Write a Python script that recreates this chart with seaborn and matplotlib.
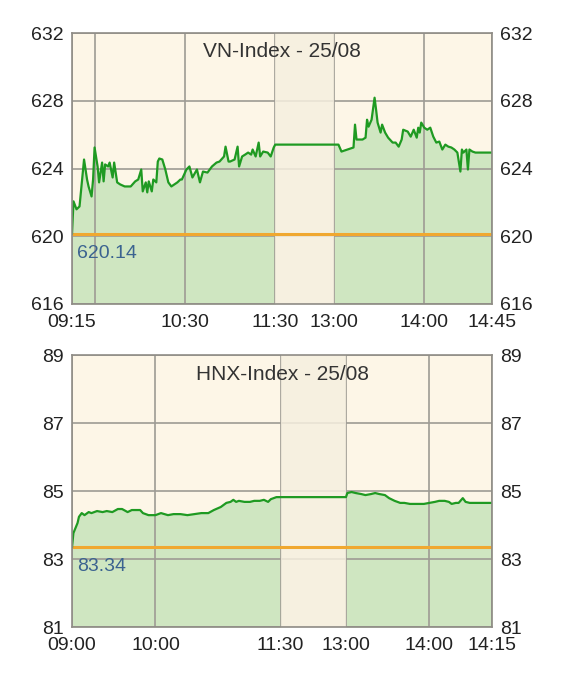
import numpy as np
import pandas as pd
import matplotlib
matplotlib.use('Agg')
import matplotlib.pyplot as plt
import seaborn as sns


# VN-Index intraday, 25/08
VN_TIMES = [
    '09:15', '09:16', '09:18', '09:20', '09:23', '09:25', '09:26', '09:28', '09:29', '09:30',
    '09:32', '09:33', '09:35', '09:36', '09:37', '09:39', '09:40', '09:42', '09:43', '09:45',
    '09:47', '09:50', '09:54', '09:57', '09:59', '10:01', '10:02', '10:04', '10:05', '10:06',
    '10:08', '10:09', '10:11', '10:12', '10:13', '10:15', '10:17', '10:19', '10:21', '10:25',
    '10:27', '10:28', '10:31', '10:33', '10:35', '10:38', '10:40', '10:42', '10:45', '10:48',
    '10:51', '10:53', '10:56', '10:57', '10:59', '11:00', '11:03', '11:05', '11:06', '11:08',
    '11:10', '11:12', '11:14', '11:15', '11:17', '11:19', '11:20', '11:22', '11:25', '11:27',
    '11:29', '11:30', '13:00', '13:03', '13:05', '13:09', '13:13', '13:14', '13:15', '13:19',
    '13:21', '13:22', '13:23', '13:25', '13:27', '13:28', '13:29', '13:31', '13:32', '13:34',
    '13:36', '13:39', '13:41', '13:43', '13:45', '13:46', '13:49', '13:51', '13:53', '13:55',
    '13:56', '13:57', '13:58', '14:00', '14:02', '14:04', '14:06', '14:08', '14:10', '14:12',
    '14:14', '14:16', '14:18', '14:20', '14:22', '14:24', '14:25', '14:26', '14:28', '14:29',
    '14:30', '14:32', '14:34', '14:45',
]
VN_VALUES = [
    620.14, 622.06, 621.59, 621.76, 624.53, 623.35, 622.94, 622.35, 623.35, 625.24,
    624.12, 623.18, 624.35, 623.24, 624.24, 624.12, 624.35, 623.47, 624.35, 623.18,
    623.06, 622.94, 622.94, 623.24, 623.35, 623.94, 622.65, 623.18, 622.59, 623.24,
    622.65, 623.35, 623.18, 624.41, 624.59, 624.53, 623.94, 623.18, 622.94, 623.18,
    623.35, 623.35, 623.94, 624.12, 623.47, 623.94, 623.18, 623.82, 623.76, 624.12,
    624.35, 624.41, 624.71, 625.29, 624.41, 624.41, 624.53, 625.29, 624.12, 624.71,
    624.82, 624.94, 624.82, 625.12, 624.71, 625.53, 624.71, 625.00, 624.94, 624.71,
    625.24, 625.41, 625.41, 625.41, 625.00, 625.12, 625.24, 626.59, 625.71, 625.71,
    625.82, 626.88, 626.47, 626.88, 628.18, 627.47, 626.71, 626.12, 626.59, 626.12,
    625.82, 625.53, 625.53, 625.29, 625.71, 626.29, 626.18, 625.88, 626.29, 625.82,
    626.41, 626.12, 626.71, 626.41, 626.29, 626.41, 625.88, 625.53, 625.59, 625.12,
    625.41, 625.29, 625.24, 625.12, 624.94, 623.82, 625.12, 624.94, 625.12, 623.94,
    625.12, 625.00, 624.94, 624.94,
]
VN_REF = 620.14
VN_TICKS = ['09:15', '10:30', '11:30', '13:00', '14:00', '14:45']
VN_TICK_LABELS = ['09:15', '10:30', '11:30', '13:00', '14:00', '14:45']
VN_EXTRA_GRID = ['09:30']
VN_YTICKS = [616, 620, 624, 628, 632]

# HNX-Index intraday, 25/08
HNX_TIMES = [
    '09:00', '09:01', '09:04', '09:05', '09:07', '09:09', '09:12', '09:14', '09:18', '09:22',
    '09:25', '09:29', '09:33', '09:36', '09:40', '09:43', '09:47', '09:49', '09:51', '09:55',
    '10:00', '10:04', '10:09', '10:13', '10:18', '10:23', '10:28', '10:33', '10:38', '10:42',
    '10:47', '10:51', '10:54', '10:56', '10:58', '11:00', '11:04', '11:08', '11:11', '11:15',
    '11:18', '11:21', '11:23', '11:27', '11:30', '13:00', '13:01', '13:04', '13:07', '13:11',
    '13:14', '13:18', '13:21', '13:24', '13:28', '13:31', '13:35', '13:39', '13:42', '13:46',
    '13:51', '13:56', '14:00', '14:04', '14:07', '14:11', '14:14', '14:16', '14:19', '14:21',
    '14:24', '14:26', '14:29', '14:45',
]
HNX_VALUES = [
    83.34, 83.76, 84.06, 84.24, 84.35, 84.29, 84.38, 84.35, 84.41, 84.38,
    84.41, 84.38, 84.47, 84.47, 84.38, 84.44, 84.44, 84.44, 84.35, 84.29,
    84.29, 84.35, 84.29, 84.32, 84.32, 84.29, 84.32, 84.35, 84.35, 84.44,
    84.53, 84.65, 84.68, 84.74, 84.68, 84.71, 84.68, 84.68, 84.71, 84.71,
    84.74, 84.68, 84.76, 84.82, 84.82, 84.82, 84.94, 84.97, 84.94, 84.91,
    84.88, 84.91, 84.94, 84.91, 84.88, 84.79, 84.71, 84.65, 84.65, 84.62,
    84.62, 84.62, 84.65, 84.68, 84.71, 84.71, 84.68, 84.62, 84.65, 84.65,
    84.79, 84.68, 84.65, 84.65,
]
HNX_REF = 83.34
HNX_TICKS = ['09:00', '10:00', '11:30', '13:00', '14:00', '14:45']
HNX_TICK_LABELS = ['09:00', '10:00', '11:30', '13:00', '14:00', '14:15']
HNX_EXTRA_GRID = []
HNX_YTICKS = [81, 83, 85, 87, 89]

BG = '#fdf6e7'
LUNCH_BG = '#f5efdf'
FILL = '#cfe6c1'
LINE = '#1f9a22'
REF_LINE = '#f0a830'
REF_TEXT = '#3b6390'
GRID = '#9e9b94'


def minutes(t):
    h, m = t.split(':')
    return int(h) * 60 + int(m)


def to_pos(t, open_t, lunch_gap):
    # compress the 11:30-13:00 lunch break into lunch_gap minutes
    m = minutes(t)
    if m <= minutes('11:30'):
        return m - minutes(open_t)
    return minutes('11:30') - minutes(open_t) + lunch_gap + (m - minutes('13:00'))


def draw(ax, title, times, values, ref, ticks, tick_labels, extra_grid, yticks, lunch_gap):
    open_t = ticks[0]
    df = pd.DataFrame({'time': times, 'value': values})
    df['pos'] = [to_pos(t, open_t, lunch_gap) for t in df['time']]
    lo, hi = yticks[0], yticks[-1]
    x_lunch0 = to_pos('11:30', open_t, lunch_gap)
    x_lunch1 = to_pos('13:00', open_t, lunch_gap)
    x_end = to_pos(ticks[-1], open_t, lunch_gap)

    ax.set_facecolor(BG)
    am = df[df['pos'] <= x_lunch0]
    pm = df[df['pos'] >= x_lunch1]
    ax.fill_between(am['pos'], am['value'], lo, color=FILL, lw=0, zorder=0.2)
    ax.fill_between(pm['pos'], pm['value'], lo, color=FILL, lw=0, zorder=0.2)
    ax.axvspan(x_lunch0, x_lunch1, color=LUNCH_BG, alpha=0.85, lw=0, zorder=0.6)

    ax.axhline(ref, color=REF_LINE, lw=2.2, zorder=1.8)
    sns.lineplot(data=df, x='pos', y='value', ax=ax, color=LINE, lw=1.6,
                 estimator=None, sort=False, zorder=2)

    ax.set_xlim(0, x_end)
    ax.set_ylim(lo, hi)
    ax.set_xticks([to_pos(t, open_t, lunch_gap) for t in ticks])
    ax.set_xticklabels(tick_labels)
    ax.set_xticks([to_pos(t, open_t, lunch_gap) for t in extra_grid], minor=True)
    ax.set_yticks(yticks)
    ax.set_yticklabels([str(v) for v in yticks])
    ax.grid(True, which='both', color=GRID, lw=1.2)
    ax.set_axisbelow(True)
    ax.tick_params(axis='both', which='both', length=0, labelsize=14, colors='#222222')
    ax.tick_params(axis='y', labelright=True, pad=6)
    ax.tick_params(axis='x', pad=7.5)
    ax.set_xlabel('')
    ax.set_ylabel('')
    for s in ax.spines.values():
        s.set_color('#8f8c86')
        s.set_linewidth(1.2)

    ax.text(0.5, 0.965, title, transform=ax.transAxes, ha='center', va='top',
            fontsize=15, color='#333333')
    ax.text(0.012, ref - (hi - lo) * 0.04, f'{ref:.2f}', transform=ax.get_yaxis_transform(),
            ha='left', va='top', fontsize=14, color=REF_TEXT)


def main():
    sns.set_theme(style='white')
    plt.rcParams['font.family'] = ['Liberation Sans', 'DejaVu Sans']

    W, H = 566, 674
    fig = plt.figure(figsize=(W / 100, H / 100), dpi=100)
    fig.patch.set_facecolor('white')
    ax1 = fig.add_axes([72 / W, 1 - 304 / H, 420 / W, 271 / H])
    ax2 = fig.add_axes([72 / W, 1 - 627 / H, 420 / W, 272 / H])

    draw(ax1, 'VN-Index - 25/08', VN_TIMES, VN_VALUES, VN_REF, VN_TICKS, VN_TICK_LABELS,
         VN_EXTRA_GRID, VN_YTICKS, lunch_gap=39)
    draw(ax2, 'HNX-Index - 25/08', HNX_TIMES, HNX_VALUES, HNX_REF, HNX_TICKS, HNX_TICK_LABELS,
         HNX_EXTRA_GRID, HNX_YTICKS, lunch_gap=47)

    fig.savefig('out.png', dpi=100, facecolor='white')


if __name__ == '__main__':
    main()
